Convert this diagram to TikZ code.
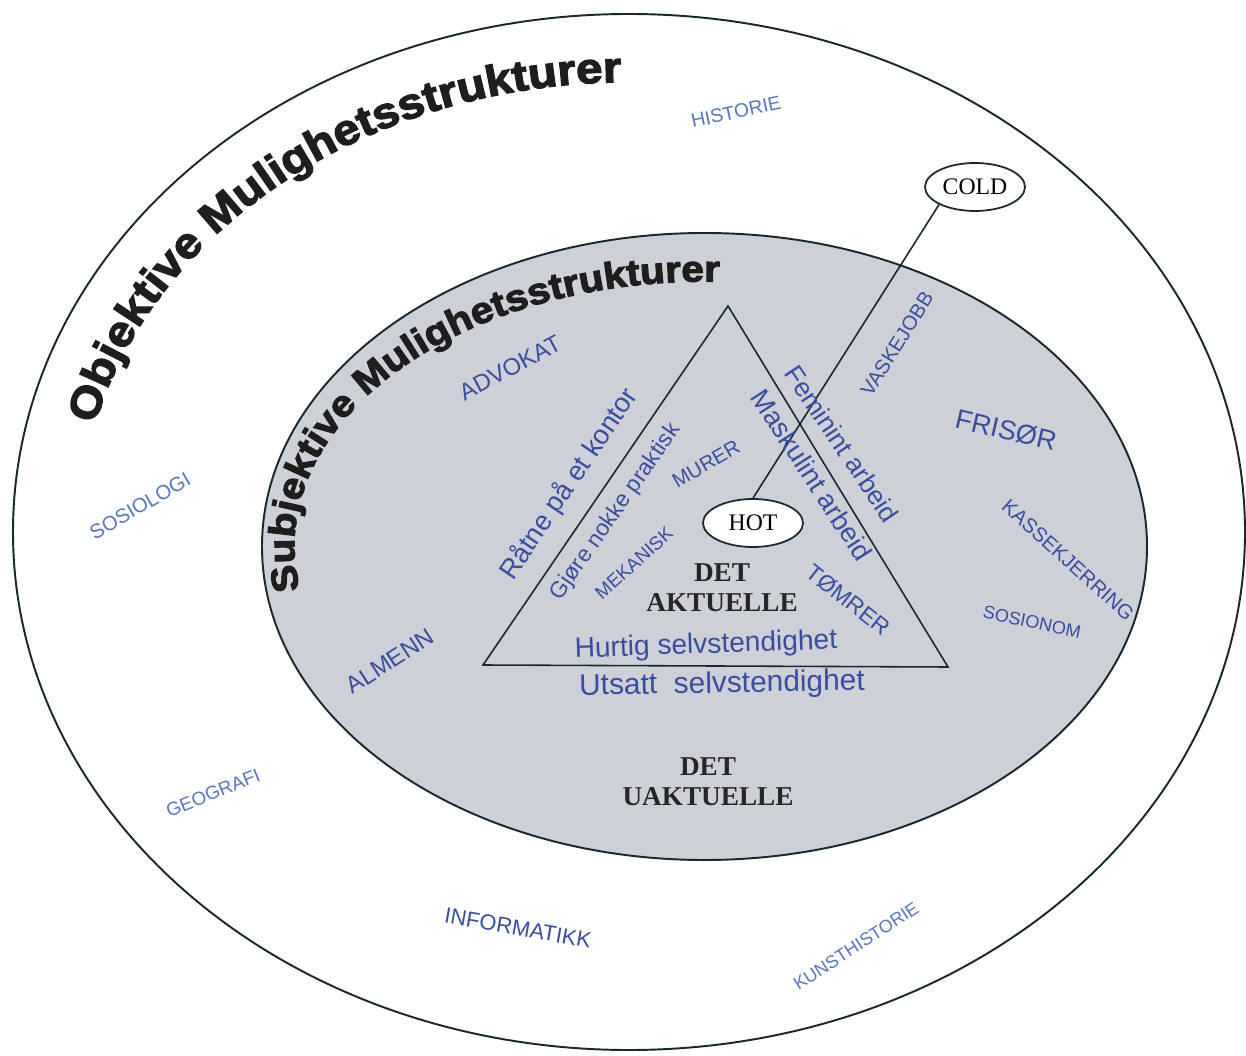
\documentclass[tikz,border=0pt]{standalone}
\usepackage{fontspec}
\setmainfont{Liberation Serif}
\newfontfamily\handfont{Liberation Sans}
\newfontfamily\titlefont[FakeStretch=1.1,FakeBold=3]{Liberation Sans}
\usetikzlibrary{decorations.text,shapes.geometric}
\definecolor{pen}{RGB}{58,78,158}
\definecolor{penlight}{RGB}{88,118,192}
\definecolor{innerfill}{RGB}{205,208,215}
\definecolor{linecol}{RGB}{25,40,45}
\definecolor{titlegray}{RGB}{30,30,30}
\begin{document}
\begin{tikzpicture}[x=0.02cm,y=0.02cm,
  hand/.style={text=pen, inner sep=0pt},
  handout/.style={text=penlight, inner sep=0pt},
  hs/.style={font=\handfont\fontsize{#1}{#1}\selectfont},
  bubble/.style={draw=linecol, line width=1pt, ellipse, fill=white,
    minimum width=2cm, minimum height=0.96cm, inner sep=0pt,
    font=\fontsize{13.5}{15}\selectfont},
  bigtext/.style={align=center, inner sep=0pt,
    font=\bfseries\fontsize{15.5}{17}\selectfont, text=black!85},
  ring/.style={draw=linecol, line width=1.1pt}]
\useasboundingbox (0,0) rectangle (1246,1055);
\fill[white] (0,0) rectangle (1246,1055);
% outer and inner ellipses
\draw[ring] (629,523) ellipse [x radius=616, y radius=518];
\draw[ring, fill=innerfill] (704.5,508.5) ellipse [x radius=442.5, y radius=313.5];
% titles along arcs
\path[decorate, decoration={text along path, text align=left, text color=titlegray,
  text={|\titlefont\bfseries\fontsize{24.5}{26}\selectfont|Objektive Mulighetsstrukturer}}]
  (94.9,630.3) arc[start angle=166.2, end angle=60, x radius=550, y radius=450];
\path[decorate, decoration={text along path, text align=left, text color=titlegray,
  text={|\titlefont\bfseries\fontsize{21}{23}\selectfont|Subjektive Mulighetsstrukturer}}]
  (300,465.2) arc[start angle=189.4, end angle=60, x radius=410, y radius=265];
% triangle
\coordinate (apex) at (728,749);
\coordinate (bl) at (483,390);
\coordinate (br) at (948,388);
\draw[draw=linecol, line width=0.9pt, line join=miter] (apex) -- (bl) -- (br) -- cycle;
% bubbles
\node[bubble] (hot) at (753,532) {HOT};
\node[bubble] (cold) at (975,868) {COLD};
\draw[draw=linecol, line width=0.9pt] (hot.north) -- (cold.south west);
% printed labels
\node[bigtext] (aktuelle) at (722,467) {DET\\AKTUELLE};
\node[bigtext] (uaktuelle) at (708,273) {DET\\UAKTUELLE};
% handwritten labels, outer ring
\node[handout, hs=11, rotate=12] (historie) at (736,943) {HISTORIE};
\node[handout, hs=11.5, rotate=30] (sosiologi) at (140,549) {SOSIOLOGI};
\node[handout, hs=10.7, rotate=22] (geografi) at (213,262) {GEOGRAFI};
\node[hand, hs=12.5, rotate=-10] (informatikk) at (518,127) {INFORMATIKK};
\node[handout, hs=10.2, rotate=33] (kunsthistorie) at (856,109) {KUNSTHISTORIE};
% handwritten labels, inner ellipse
\node[hand, hs=13.5, rotate=28] (advokat) at (510,687) {ADVOKAT};
\node[hand, hs=13.5, rotate=33] (almenn) at (390,394) {ALMENN};
\node[hand, hs=15.5, rotate=56] (ratne) at (569,571) {Råtne på et kontor};
\node[hand, hs=13, rotate=55] (gjore) at (616,543) {Gjøre nokke praktisk};
\node[hand, hs=11.5, rotate=30] (murer) at (706,591) {MURER};
\node[hand, hs=10.7, rotate=42] (mekanisk) at (634,492) {MEKANISK};
\node[hand, hs=15, rotate=-56] (feminint) at (842,611) {Feminint arbeid};
\node[hand, hs=15.5, rotate=-57] (maskulint) at (812,580) {Maskulint arbeid};
\node[hand, hs=13, rotate=-38] (tomrer) at (848,455) {TØMRER};
\node[hand, hs=11.5, rotate=58] (vaskejobb) at (897,711) {VASKEJOBB};
\node[hand, hs=15.5, rotate=-13] (frisor) at (1006,625) {FRISØR};
\node[hand, hs=11.5, rotate=-42] (kasse) at (1068,495) {KASSEKJERRING};
\node[hand, hs=10.3, rotate=-12] (sosionom) at (1032,433) {SOSIONOM};
\node[hand, hs=16, rotate=2] (hurtig) at (706,409) {Hurtig selvstendighet};
\node[hand, hs=17, rotate=1] (utsatt) at (722,370) {Utsatt\ \ selvstendighet};
\end{tikzpicture}
\end{document}
